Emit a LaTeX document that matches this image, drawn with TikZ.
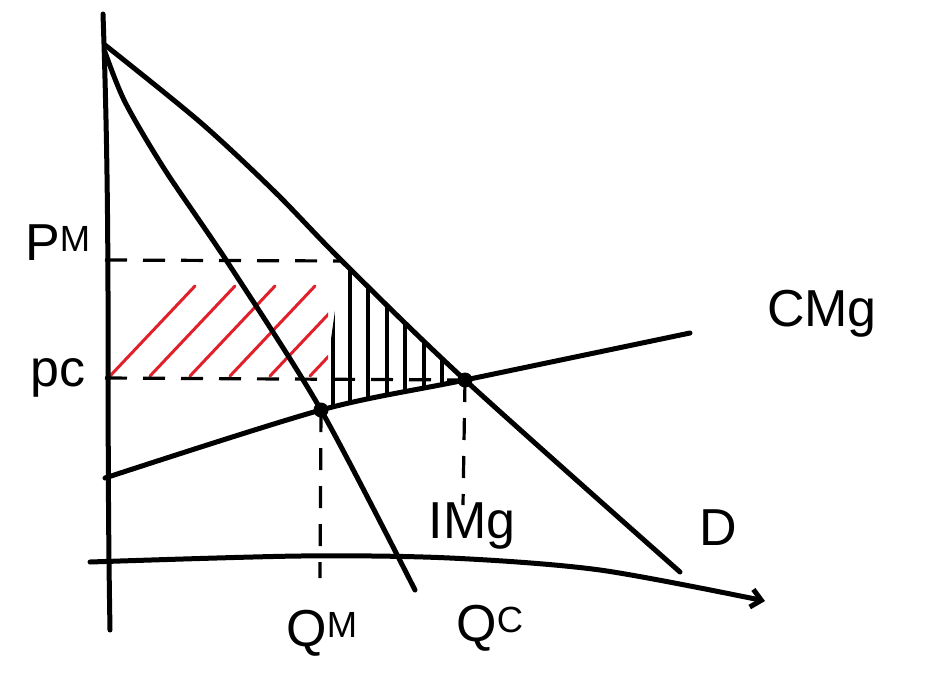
\documentclass[tikz,border=0pt]{standalone}
\usepackage{fontspec}
\setmainfont{Liberation Sans}
\usetikzlibrary{arrows.meta,positioning,calc}
\definecolor{SketchInk}{HTML}{000000}
\definecolor{SketchRed}{HTML}{E0202A}
\tikzset{
  curve/.style={line width=5pt, draw=SketchInk, line cap=round, line join=round},
  guide/.style={line width=3.2pt, draw=SketchInk, dash pattern=on 22pt off 16pt},
  hatchred/.style={line width=3pt, draw=SketchRed, line cap=round},
  hatchblack/.style={line width=3.4pt, draw=SketchInk, line cap=round},
  label/.style={font=\fontsize{52}{52}\selectfont, inner sep=0pt},
  point/.style={circle, fill=SketchInk, inner sep=0pt, minimum size=15pt},
}
\begin{document}
\begin{tikzpicture}[x=1pt,y=-1pt]
    \useasboundingbox (0,0) rectangle (933,672);
    % key points
    \coordinate (ytop) at (103,14);
    \coordinate (ybot) at (110,630);
    \coordinate (xbeg) at (90,562);
    \coordinate (xend) at (765,601);
    \coordinate (dtop) at (105,45);
    \coordinate (dend) at (680,572);
    \coordinate (itop) at (105,52);
    \coordinate (iend) at (415,590);
    \coordinate (cbeg) at (105,478);
    \coordinate (cend) at (690,333);
    \coordinate (pmax) at (105,260);
    \coordinate (pcax) at (105,378);
    \coordinate (pm) at (342,261);
    \node[point] (mm) at (321,410) {};
    \node[point] (ce) at (465,380) {};
    \coordinate (qmend) at (320,578);
    \coordinate (qcend) at (463,505);
    % shaded areas
    \begin{scope}
      \clip (108,266) rectangle (328,376);
      \foreach \s in {110,150,190,230,270,310,350}
        \draw[hatchred] (\s,376) -- ++(85,-90);
    \end{scope}
    \begin{scope}
      \clip (pm) -- (mm.center) -- (ce.center) -- cycle;
      \foreach \s in {333,350,368,387,405,424,442}
        \draw[hatchblack] (\s,250) -- (\s,420);
    \end{scope}
    % guides
    \draw[guide] (pmax) -- (pm);
    \draw[guide] (pcax) -- (ce.center);
    \draw[guide] (mm.center) -- (qmend);
    \draw[guide] (ce.center) -- (qcend);
    % axes
    \draw[curve] (ytop) to[out=-88,in=91] (ybot);
    \draw[curve,-{Straight Barb[length=10pt,width=18pt]}] plot[smooth] coordinates {(xbeg) (300,556) (450,558) (600,570) (xend)};
    % curves
    \draw[curve] plot[smooth] coordinates {(dtop) (200,122) (275,192) (pm) (ce) (dend)};
    \draw[curve] plot[smooth] coordinates {(itop) (125,102) (165,170) (230,266) (mm) (iend)};
    \draw[curve] plot[smooth] coordinates {(cbeg) (mm) (ce) (cend)};
    % labels
    \node[label] (lpm) at (58,243) {P\textsuperscript{M}};
    \node[label] (lpc) at (58,378) {pc};
    \node[label] (lqm) at (322,633) {Q\textsuperscript{M}};
    \node[label] (lqc) at (490,628) {Q\textsuperscript{C}};
    \node[label] (lcmg) at (822,314) {CMg};
    \node[label] (ld) at (718,528) {D};
    \node[label] (limg) at (472,526) {IMg};
\end{tikzpicture}
\end{document}
